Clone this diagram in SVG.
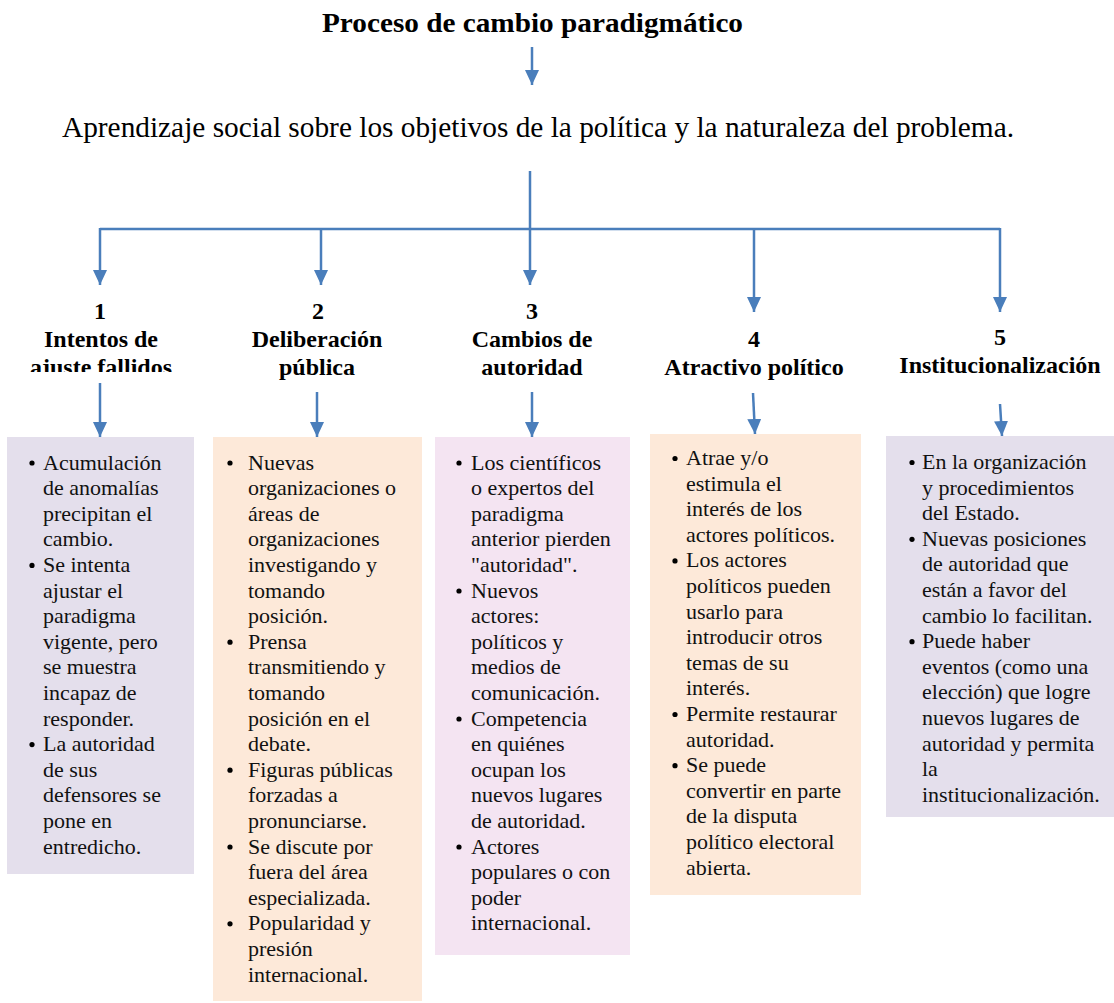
<svg xmlns="http://www.w3.org/2000/svg" width="1114" height="1003" viewBox="0 0 1114 1003">
<style>
.title{font-family:"Liberation Serif","Times New Roman",serif;font-weight:bold;font-size:27px;fill:#000}
.sub{font-family:"Liberation Serif","Times New Roman",serif;font-size:29px;fill:#000}
.head{font-family:"Liberation Serif","Times New Roman",serif;font-weight:bold;font-size:24px;fill:#000;text-anchor:middle}
.body{font-family:"Liberation Serif","Times New Roman",serif;font-size:22px;fill:#111}
.conn{stroke:#4a7ebb;stroke-width:2.5;fill:none}
.arr{marker-end:url(#ah)}
.b1{fill:#e4dfec}.b2{fill:#fde9d9}.b3{fill:#f4e4f2}
.dot{fill:#000}
</style>
<defs>
<marker id="ah" viewBox="0 0 15 14" refX="15" refY="7" markerWidth="15" markerHeight="14" markerUnits="userSpaceOnUse" orient="auto">
<path d="M0,0 L15,7 L0,14 z" fill="#4a7ebb"/>
</marker>
<clipPath id="clipH1"><rect x="0" y="290" width="220" height="82"/></clipPath>
</defs>

<g id="title"><text class="title" x="322" y="32" textLength="421" lengthAdjust="spacingAndGlyphs">Proceso de cambio paradigmático</text></g>
<g id="subtitle"><text class="sub" x="62" y="137" textLength="952" lengthAdjust="spacingAndGlyphs">Aprendizaje social sobre los objetivos de la política y la naturaleza del problema.</text></g>

<g id="connectors">
<line class="conn arr" x1="532" y1="47" x2="532" y2="85"/>
<polyline class="conn" points="530,171 530,229"/>
<line class="conn" x1="100" y1="229" x2="1000" y2="229"/>
<line class="conn arr" x1="100" y1="228" x2="100" y2="285"/>
<line class="conn arr" x1="321" y1="229" x2="321" y2="285"/>
<line class="conn arr" x1="530" y1="229" x2="530" y2="285"/>
<line class="conn arr" x1="754" y1="229" x2="754" y2="312"/>
<line class="conn arr" x1="1000" y1="228" x2="1000" y2="312"/>
<line class="conn arr" x1="100" y1="383" x2="100" y2="437"/>
<line class="conn arr" x1="317" y1="392" x2="317" y2="437"/>
<line class="conn arr" x1="532" y1="392" x2="532" y2="437"/>
<line class="conn arr" x1="753" y1="393" x2="755" y2="434"/>
<line class="conn arr" x1="1000" y1="404" x2="1002" y2="436"/>
</g>

<g id="head1">
<text class="head" x="100" y="319">1</text>
<text class="head" x="101" y="347">Intentos de</text>
<text class="head" x="101" y="375" clip-path="url(#clipH1)">ajuste fallidos</text>
</g>
<g id="head2">
<text class="head" x="318" y="319">2</text>
<text class="head" x="317" y="347">Deliberación</text>
<text class="head" x="317" y="375">pública</text>
</g>
<g id="head3">
<text class="head" x="532" y="319">3</text>
<text class="head" x="532" y="347">Cambios de</text>
<text class="head" x="532" y="375">autoridad</text>
</g>
<g id="head4">
<text class="head" x="754" y="347">4</text>
<text class="head" x="754" y="375">Atractivo político</text>
</g>
<g id="head5">
<text class="head" x="1000" y="345">5</text>
<text class="head" x="1000" y="373">Institucionalización</text>
</g>

<g id="box1">
<rect class="b1" x="7" y="437" width="187" height="437"/>
<circle class="dot" cx="32" cy="463" r="2.6"/>
<circle class="dot" cx="32" cy="565.4" r="2.6"/>
<circle class="dot" cx="32" cy="744.6" r="2.6"/>
<text class="body" x="43" y="469.5">Acumulación<tspan x="43" dy="25.6">de anomalías</tspan><tspan x="43" dy="25.6">precipitan el</tspan><tspan x="43" dy="25.6">cambio.</tspan><tspan x="43" dy="25.6">Se intenta</tspan><tspan x="43" dy="25.6">ajustar el</tspan><tspan x="43" dy="25.6">paradigma</tspan><tspan x="43" dy="25.6">vigente, pero</tspan><tspan x="43" dy="25.6">se muestra</tspan><tspan x="43" dy="25.6">incapaz de</tspan><tspan x="43" dy="25.6">responder.</tspan><tspan x="43" dy="25.6">La autoridad</tspan><tspan x="43" dy="25.6">de sus</tspan><tspan x="43" dy="25.6">defensores se</tspan><tspan x="43" dy="25.6">pone en</tspan><tspan x="43" dy="25.6">entredicho.</tspan></text>
</g>

<g id="box2">
<rect class="b2" x="213" y="437" width="209" height="564"/>
<circle class="dot" cx="230" cy="463" r="2.6"/>
<circle class="dot" cx="230" cy="642.2" r="2.6"/>
<circle class="dot" cx="230" cy="770.2" r="2.6"/>
<circle class="dot" cx="230" cy="847" r="2.6"/>
<circle class="dot" cx="230" cy="923.8" r="2.6"/>
<text class="body" x="248" y="469.5">Nuevas<tspan x="248" dy="25.6">organizaciones o</tspan><tspan x="248" dy="25.6">áreas de</tspan><tspan x="248" dy="25.6">organizaciones</tspan><tspan x="248" dy="25.6">investigando y</tspan><tspan x="248" dy="25.6">tomando</tspan><tspan x="248" dy="25.6">posición.</tspan><tspan x="248" dy="25.6">Prensa</tspan><tspan x="248" dy="25.6">transmitiendo y</tspan><tspan x="248" dy="25.6">tomando</tspan><tspan x="248" dy="25.6">posición en el</tspan><tspan x="248" dy="25.6">debate.</tspan><tspan x="248" dy="25.6">Figuras públicas</tspan><tspan x="248" dy="25.6">forzadas a</tspan><tspan x="248" dy="25.6">pronunciarse.</tspan><tspan x="248" dy="25.6">Se discute por</tspan><tspan x="248" dy="25.6">fuera del área</tspan><tspan x="248" dy="25.6">especializada.</tspan><tspan x="248" dy="25.6">Popularidad y</tspan><tspan x="248" dy="25.6">presión</tspan><tspan x="248" dy="25.6">internacional.</tspan></text>
</g>

<g id="box3">
<rect class="b3" x="435" y="437" width="195" height="518"/>
<circle class="dot" cx="459" cy="463" r="2.6"/>
<circle class="dot" cx="459" cy="591" r="2.6"/>
<circle class="dot" cx="459" cy="719" r="2.6"/>
<circle class="dot" cx="459" cy="847" r="2.6"/>
<text class="body" x="471" y="469.5">Los científicos<tspan x="471" dy="25.6">o expertos del</tspan><tspan x="471" dy="25.6">paradigma</tspan><tspan x="471" dy="25.6">anterior pierden</tspan><tspan x="471" dy="25.6">"autoridad".</tspan><tspan x="471" dy="25.6">Nuevos</tspan><tspan x="471" dy="25.6">actores:</tspan><tspan x="471" dy="25.6">políticos y</tspan><tspan x="471" dy="25.6">medios de</tspan><tspan x="471" dy="25.6">comunicación.</tspan><tspan x="471" dy="25.6">Competencia</tspan><tspan x="471" dy="25.6">en quiénes</tspan><tspan x="471" dy="25.6">ocupan los</tspan><tspan x="471" dy="25.6">nuevos lugares</tspan><tspan x="471" dy="25.6">de autoridad.</tspan><tspan x="471" dy="25.6">Actores</tspan><tspan x="471" dy="25.6">populares o con</tspan><tspan x="471" dy="25.6">poder</tspan><tspan x="471" dy="25.6">internacional.</tspan></text>
</g>

<g id="box4">
<rect class="b2" x="650" y="434" width="211" height="461"/>
<circle class="dot" cx="675" cy="458.5" r="2.6"/>
<circle class="dot" cx="675" cy="560.9" r="2.6"/>
<circle class="dot" cx="675" cy="714.5" r="2.6"/>
<circle class="dot" cx="675" cy="765.7" r="2.6"/>
<text class="body" x="686" y="465">Atrae y/o<tspan x="686" dy="25.6">estimula el</tspan><tspan x="686" dy="25.6">interés de los</tspan><tspan x="686" dy="25.6">actores políticos.</tspan><tspan x="686" dy="25.6">Los actores</tspan><tspan x="686" dy="25.6">políticos pueden</tspan><tspan x="686" dy="25.6">usarlo para</tspan><tspan x="686" dy="25.6">introducir otros</tspan><tspan x="686" dy="25.6">temas de su</tspan><tspan x="686" dy="25.6">interés.</tspan><tspan x="686" dy="25.6">Permite restaurar</tspan><tspan x="686" dy="25.6">autoridad.</tspan><tspan x="686" dy="25.6">Se puede</tspan><tspan x="686" dy="25.6">convertir en parte</tspan><tspan x="686" dy="25.6">de la disputa</tspan><tspan x="686" dy="25.6">político electoral</tspan><tspan x="686" dy="25.6">abierta.</tspan></text>
</g>

<g id="box5">
<rect class="b1" x="886" y="436" width="228" height="381"/>
<circle class="dot" cx="912" cy="462.5" r="2.6"/>
<circle class="dot" cx="912" cy="539.3" r="2.6"/>
<circle class="dot" cx="912" cy="641.7" r="2.6"/>
<text class="body" x="922" y="469">En la organización<tspan x="922" dy="25.6">y procedimientos</tspan><tspan x="922" dy="25.6">del Estado.</tspan><tspan x="922" dy="25.6">Nuevas posiciones</tspan><tspan x="922" dy="25.6">de autoridad que</tspan><tspan x="922" dy="25.6">están a favor del</tspan><tspan x="922" dy="25.6">cambio lo facilitan.</tspan><tspan x="922" dy="25.6">Puede haber</tspan><tspan x="922" dy="25.6">eventos (como una</tspan><tspan x="922" dy="25.6">elección) que logre</tspan><tspan x="922" dy="25.6">nuevos lugares de</tspan><tspan x="922" dy="25.6">autoridad y permita</tspan><tspan x="922" dy="25.6">la</tspan><tspan x="922" dy="25.6">institucionalización.</tspan></text>
</g>
</svg>
